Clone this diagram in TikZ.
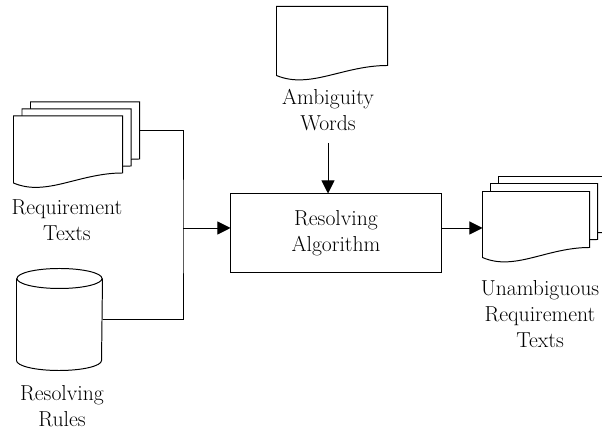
\documentclass[tikz,border=0pt]{standalone}
\usepackage{tikz}
\usetikzlibrary{positioning}
\usetikzlibrary{calc,arrows.meta}

% page with a wavy bottom edge, drawn over an empty node
\newcommand{\docshape}[1]{%
  \draw[fill=white] (#1.south east) -- (#1.north east) -- (#1.north west) -- ([yshift=-0.25cm]#1.south west)
    .. controls ($(#1.south west)!0.3!(#1.south east)+(0,-0.6cm)$) and ($(#1.south west)!0.6!(#1.south east)$) .. (#1.south east) -- cycle;}
% drum for the rule store
\newcommand{\drumshape}[1]{%
  \draw[fill=white] ([yshift=-0.25cm]#1.north west) -- ([yshift=0.25cm]#1.south west)
    arc[start angle=180,end angle=360,x radius=1.0625cm,y radius=0.25cm] -- ([yshift=-0.25cm]#1.north east);
  \draw ([yshift=-0.25cm]#1.north) ellipse [x radius=1.0625cm,y radius=0.25cm];}

\begin{document}
\begin{tikzpicture}[x=0.025cm,y=0.025cm,line width=0.7pt,>={Triangle[length=3.3mm,width=3.3mm]},
  docnode/.style={minimum width=2.7cm,minimum height=1.4cm,inner sep=0pt},
  txt/.style={align=center,inner sep=0pt,font=\fontsize{15.4}{18.5}\selectfont},
  procbox/.style={draw,minimum width=5.25cm,minimum height=1.95cm,align=center,font=\fontsize{15.4}{18.5}\selectfont}]
\useasboundingbox (0,0) rectangle (602,431);

% input documents
\node[docnode] at (85,300.5) (reqback) {};
\node[docnode] at (76.5,293.5) (reqmid) {};
\node[docnode] at (68,286.5) (reqfront) {};
\docshape{reqback}
\docshape{reqmid}
\docshape{reqfront}
\node[txt] at (67,211) (reqtext) {Requirement\\Texts};

% rule store
\node[minimum width=2.125cm,minimum height=2.525cm,inner sep=0pt] at (59.5,111.5) (rules) {};
\drumshape{rules}
\node[txt] at (62,25) (rulestext) {Resolving\\Rules};

% ambiguity words
\node[docnode,minimum width=2.75cm,minimum height=1.45cm] at (332,395) (ambdoc) {};
\docshape{ambdoc}
\node[txt] at (328,321) (ambtext) {Ambiguity\\Words};

% process
\node[procbox] at (336,198) (algo) {Resolving\\Algorithm};

% output documents
\node[docnode,minimum width=2.65cm,minimum height=1.375cm] at (552,226.5) (unback) {};
\node[docnode,minimum width=2.65cm,minimum height=1.375cm] at (544,219.5) (unmid) {};
\node[docnode,minimum width=2.65cm,minimum height=1.375cm] at (536,211.5) (unfront) {};
\docshape{unback}
\docshape{unmid}
\docshape{unfront}
\node[txt] at (540,117) (untext) {Unambiguous\\Requirement\\Texts};

% connectors
\coordinate (join) at (183,203);
\coordinate (ambout) at (328,288);
\draw (reqback.east) -| (join) |- (rules.east);
\draw[->] (join) -- (join -| algo.west);
\draw[->] (ambout) -- (ambout |- algo.north);
\draw[->] (join -| algo.east) -- (join -| unfront.west);
\end{tikzpicture}
\end{document}
